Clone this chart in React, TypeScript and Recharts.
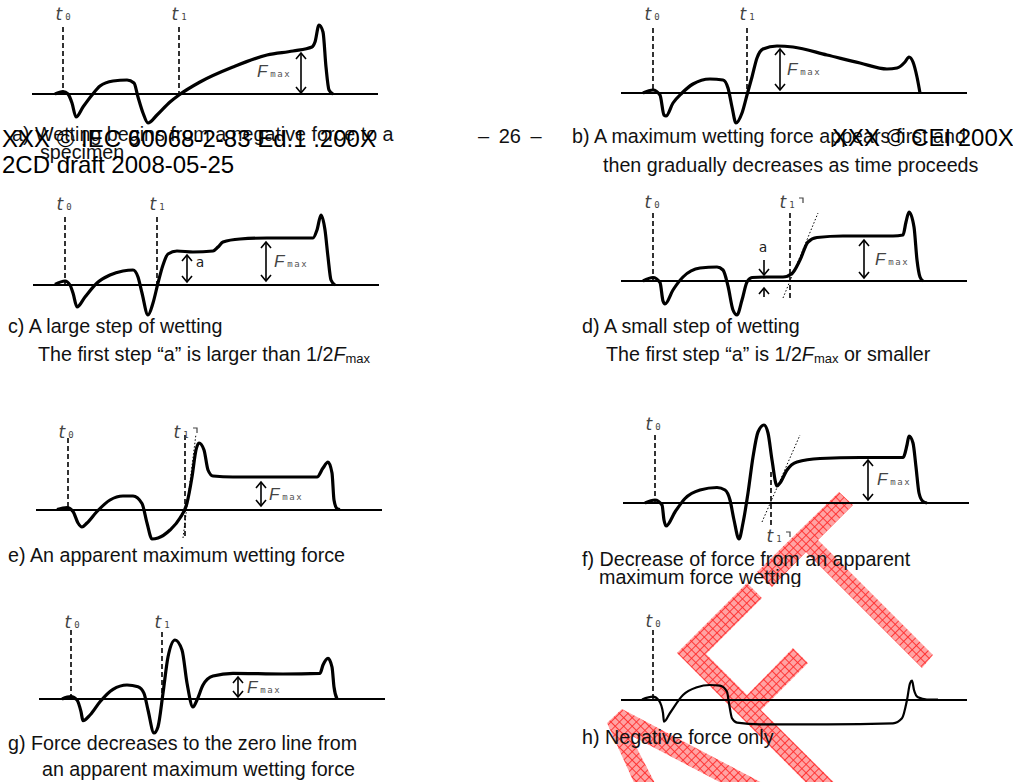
import React from 'react';
import { LineChart, Line, XAxis, YAxis, ReferenceLine, ReferenceDot } from 'recharts';

type Pt = [number, number];

// wetting force curves: [time, force], force 0 = zero line
const curveA: Pt[] = [[23, 0], [31, 2.5], [36, 0], [40, -9], [44, -23], [51, -13], [60, -1], [68, 8], [81, 13], [95, 14], [102, 11], [106, -3], [111, -19], [116, -29], [125, -21], [138, -8], [147, -1], [168, 12], [201, 27], [235, 39], [261, 43], [280, 47], [283, 52], [287, 69], [291, 62], [294, 27], [297, 4], [301, 0]];
const curveB: Pt[] = [[22, 0], [32, 3], [39, -2], [43, -22], [45, -23], [52, -10], [61, 0], [72, 9], [89, 14], [102, 13], [107, 5], [111, -14], [115, -30], [121, -20], [126, -2], [131, 16], [136, 35], [142, 44], [156, 47], [172, 46], [206, 38], [239, 30], [266, 24], [276, 25], [284, 31], [288, 36], [292, 31], [296, 16], [299, 0]];
const curveC: Pt[] = [[22, 0.5], [32, 4], [37, 0], [40, -8], [44, -22], [52, -12], [64, 2], [77, 10], [90, 14], [100, 15], [105, 8], [109, -8], [115, -30], [120, -18], [125, 2], [130, 20], [135, 31], [144, 34], [160, 33], [180, 34], [185, 38], [190, 43], [207, 46], [234, 47], [267, 47], [280, 47], [284, 55], [288, 70], [292, 55], [295, 28], [298, 5], [302, 0]];
const curveD: Pt[] = [[22, 0], [32, 3.5], [39, -1.5], [42, -20], [44, -23], [52, -9], [62, 4], [79, 13], [96, 14], [102, 11], [107, -5], [112, -29], [116, -34], [121, -19], [126, -1], [131, 3.5], [146, 4], [162, 4], [171, 7.5], [179, 21], [187, 39], [196, 43.5], [222, 45], [272, 45], [282, 46], [285, 59], [288, 69], [293, 54], [296, 21], [299, 4], [302, 0]];
const curveE: Pt[] = [[21, 0.5], [31, 2.5], [37, -1.5], [42, -13], [46, -17], [51, -13], [61, -1.5], [74, 10], [87, 14], [97, 14], [106, 6.5], [111, -13], [116, -29], [122, -28], [134, -20], [144, -8], [151, 7], [156, 33], [160, 60], [163, 67], [168, 60], [172, 40], [177, 34], [197, 33], [281, 33], [287, 42], [292, 48], [296, 37], [298, 10], [301, 1.5], [304, 0.5]];
const curveF: Pt[] = [[22, 0], [32, 3], [39, -2], [41, -17], [43, -23], [52, -9], [62, 4.5], [77, 13], [94, 15.5], [102, 13], [107, 3], [111, -17], [116, -36], [120, -20], [125, 10], [130, 46], [135, 71], [141, 78], [145, 70], [149, 43], [154, 17], [157, 20], [164, 33], [174, 41], [197, 44.5], [237, 45.5], [280, 45.5], [284, 58], [286, 67], [290, 60], [293, 36], [296, 10], [300, 1.5], [304, 0]];
const curveG: Pt[] = [[23, 0], [32, 2.3], [38, -1], [42, -12.7], [44, -21.7], [51, -16], [61, -2.7], [74, 9.7], [88, 14], [99, 12.3], [105, 5.7], [109, -11], [115, -34], [119, -27.7], [124, 5.7], [129, 42], [136, 59], [143, 49], [148, 16], [154, -8], [158, -1], [164, 14], [174, 23], [194, 25.7], [244, 25], [281, 25.7], [284, 34], [289, 40.7], [293, 32], [295, 12], [298, 0]];
const curveH: Pt[] = [[21, 0.5], [32, 3.3], [38, -0.7], [42, -13], [43, -21.7], [49, -13], [62, 5], [76, 12.7], [89, 15], [99, 14.3], [106, 8.3], [108, -3.3], [111, -18.3], [116, -22.7], [139, -24.3], [206, -24.3], [272, -23.3], [281, -18.3], [286, 0], [289, 16.7], [291, 19.3], [293, 10], [297, 2.7], [306, 0.5], [317, 0.5]];

const captionA = ['a) Wetting begins from a negative force to a', 'specimen'];
const captionB = ['b) A maximum wetting force appears first and', 'then gradually decreases as time proceeds'];
const captionC = 'c) A large step of wetting';
const captionD = 'd) A small step of wetting';
const captionE = 'e) An apparent maximum wetting force';
const captionF = ['f) Decrease of force from an apparent', 'maximum force wetting'];
const captionG = ['g) Force decreases to the zero line from', 'an apparent maximum wetting force'];
const captionH = 'h) Negative force only';

const T_MAX = 346;
const F_MIN = -50;
const F_MAX = 95;

type Seg = { t: number; from: number; to: number };
type Arrow = Seg & { heads: 'both' | 'up' | 'down' };
type Tag = { t: number; f: number; kind: 't0' | 't1' | 't1m' | 'fmax' | 'a' };

interface Panel {
  id: string;
  left: number;
  zeroY: number;
  curve: Pt[];
  thin?: boolean;
  dashed: Seg[];
  dotted?: [Pt, Pt];
  arrows: Arrow[];
  tags: Tag[];
}

const panels: Panel[] = [
  {
    id: 'a', left: 32, zeroY: 94, curve: curveA,
    dashed: [{ t: 31, from: 0, to: 67 }, { t: 147, from: 0, to: 67 }],
    arrows: [{ t: 269, from: 1, to: 41, heads: 'both' }],
    tags: [{ t: 31, f: 79, kind: 't0' }, { t: 147, f: 79, kind: 't1' }, { t: 242, f: 22, kind: 'fmax' }],
  },
  {
    id: 'b', left: 621, zeroY: 93, curve: curveB,
    dashed: [{ t: 32, from: 0, to: 65 }, { t: 126, from: 0, to: 65 }],
    arrows: [{ t: 159, from: 3, to: 44, heads: 'both' }],
    tags: [{ t: 31, f: 78, kind: 't0' }, { t: 126, f: 78, kind: 't1' }, { t: 183, f: 23, kind: 'fmax' }],
  },
  {
    id: 'c', left: 33, zeroY: 285, curve: curveC,
    dashed: [{ t: 32, from: 0, to: 68 }, { t: 124, from: 0, to: 68 }],
    arrows: [{ t: 154, from: 3, to: 30, heads: 'both' }, { t: 233, from: 4, to: 43, heads: 'both' }],
    tags: [{ t: 31, f: 80, kind: 't0' }, { t: 124, f: 80, kind: 't1' }, { t: 167, f: 23, kind: 'a' }, { t: 258, f: 23, kind: 'fmax' }],
  },
  {
    id: 'd', left: 621, zeroY: 281, curve: curveD,
    dashed: [{ t: 32, from: 0, to: 68 }, { t: 169, from: -19, to: 68 }],
    dotted: [[162, -17], [197, 68]],
    arrows: [{ t: 143, from: 6, to: 21, heads: 'down' }, { t: 143, from: -16, to: -7, heads: 'up' }, { t: 243, from: 3, to: 41, heads: 'both' }],
    tags: [{ t: 31, f: 78, kind: 't0' }, { t: 166, f: 78, kind: 't1m' }, { t: 142, f: 34, kind: 'a' }, { t: 271, f: 21, kind: 'fmax' }],
  },
  {
    id: 'e', left: 36, zeroY: 510, curve: curveE,
    dashed: [{ t: 32, from: 0, to: 72 }, { t: 149, from: -27, to: 75 }],
    dotted: [[147, -28], [160, 76]],
    arrows: [{ t: 225, from: 4, to: 28, heads: 'both' }],
    tags: [{ t: 30, f: 77, kind: 't0' }, { t: 145, f: 77, kind: 't1m' }, { t: 250, f: 15, kind: 'fmax' }],
  },
  {
    id: 'f', left: 623, zeroY: 503, curve: curveF,
    dashed: [{ t: 32, from: 0, to: 68 }, { t: 148, from: -22, to: 31 }],
    dotted: [[139, -19], [177, 68]],
    arrows: [{ t: 245, from: 3, to: 43, heads: 'both' }],
    tags: [{ t: 30, f: 78, kind: 't0' }, { t: 151, f: -34, kind: 't1m' }, { t: 271, f: 23, kind: 'fmax' }],
  },
  {
    id: 'g', left: 39, zeroY: 699, curve: curveG,
    dashed: [{ t: 32, from: 0, to: 69 }, { t: 123, from: 0, to: 67 }],
    arrows: [{ t: 199, from: 2, to: 22, heads: 'both' }],
    tags: [{ t: 33, f: 76, kind: 't0' }, { t: 123, f: 76, kind: 't1' }, { t: 225, f: 11, kind: 'fmax' }],
  },
  {
    id: 'h', left: 621, zeroY: 700, curve: curveH, thin: true,
    dashed: [{ t: 32, from: 0, to: 70 }],
    arrows: [],
    tags: [{ t: 32, f: 78, kind: 't0' }],
  },
];

const LABEL_GREY = '#444';

const arrowShape = (heads: Arrow['heads']) => (props: any) => {
  const { x1, y1, y2 } = props;
  const top = Math.min(y1, y2);
  const bot = Math.max(y1, y2);
  const h = 6;
  const w = 5;
  return (
    <g stroke="#000" strokeWidth={1.6} fill="none">
      <line x1={x1} y1={top} x2={x1} y2={bot} />
      {heads !== 'down' && <polyline points={`${x1 - w},${top + h} ${x1},${top} ${x1 + w},${top + h}`} />}
      {heads !== 'up' && <polyline points={`${x1 - w},${bot - h} ${x1},${bot} ${x1 + w},${bot - h}`} />}
    </g>
  );
};

const tagShape = (kind: Tag['kind']) => (p: any) => {
  const { cx, cy } = p;
  if (kind === 'fmax') {
    return (
      <text x={cx} y={cy + 5} textAnchor="middle" fill={LABEL_GREY}>
        <tspan fontFamily="Liberation Sans" fontStyle="italic" fontSize={17}>F</tspan>
        <tspan fontFamily="DejaVu Sans Mono" fontSize={9} letterSpacing={1.5} dx={3} fill="#555">max</tspan>
      </text>
    );
  }
  if (kind === 'a') {
    return (
      <text x={cx} y={cy + 5} textAnchor="middle" fontFamily="DejaVu Sans Mono" fontSize={14} fill="#222">a</text>
    );
  }
  return (
    <g>
      <text x={cx} y={cy + 5} textAnchor="middle" fill={LABEL_GREY}>
        <tspan fontFamily="DejaVu Sans" fontStyle="italic" fontSize={17}>t</tspan>
        <tspan fontFamily="DejaVu Sans Mono" fontSize={9} dx={3}>{kind === 't0' ? '0' : '1'}</tspan>
      </text>
      {kind === 't1m' && (
        <polyline points={`${cx + 12},${cy - 5} ${cx + 16},${cy - 5} ${cx + 16},${cy}`} stroke={LABEL_GREY} strokeWidth={1.2} fill="none" />
      )}
    </g>
  );
};

const PanelChart = ({ p }: { p: Panel }) => (
  <div style={{ position: 'absolute', left: p.left, top: p.zeroY - F_MAX }}>
    <LineChart
      width={T_MAX}
      height={F_MAX - F_MIN}
      data={p.curve.map(([t, f]) => ({ t, f }))}
      margin={{ top: 0, right: 0, bottom: 0, left: 0 }}
    >
      <XAxis dataKey="t" type="number" domain={[0, T_MAX]} hide />
      <YAxis type="number" domain={[F_MIN, F_MAX]} hide />
      <ReferenceLine y={0} stroke="#000" strokeWidth={2} />
      {p.dashed.map((d, i) => (
        <ReferenceLine
          key={`d${i}`}
          segment={[{ x: d.t, y: d.to }, { x: d.t, y: d.from }]}
          stroke="#000"
          strokeWidth={1.6}
          strokeDasharray="5 3"
        />
      ))}
      {p.dotted && (
        <ReferenceLine
          segment={[{ x: p.dotted[0][0], y: p.dotted[0][1] }, { x: p.dotted[1][0], y: p.dotted[1][1] }]}
          stroke="#000"
          strokeWidth={1}
          strokeDasharray="1.5 2"
        />
      )}
      <Line
        dataKey="f"
        type="monotone"
        stroke="#000"
        strokeWidth={p.thin ? 2.2 : 3.2}
        dot={false}
        activeDot={false}
        isAnimationActive={false}
      />
      {p.arrows.map((a, i) => (
        <ReferenceLine
          key={`a${i}`}
          segment={[{ x: a.t, y: a.from }, { x: a.t, y: a.to }]}
          shape={arrowShape(a.heads)}
        />
      ))}
      {p.tags.map((tg, i) => (
        <ReferenceDot key={`t${i}`} x={tg.t} y={tg.f} shape={tagShape(tg.kind)} />
      ))}
    </LineChart>
  </div>
);

const HATCH = 'hatch';

const Watermark = () => (
  <svg width={1013} height={782} style={{ position: 'absolute', left: 0, top: 0 }}>
    <defs>
      <pattern id={HATCH} width={6} height={6} patternUnits="userSpaceOnUse" patternTransform="rotate(45)">
        <rect width={6} height={6} fill="#ffa3a3" />
        <path d="M0 0.5H6M0.5 0V6" stroke="#ff2b2b" strokeWidth={0.9} />
      </pattern>
    </defs>
    <g fill={`url(#${HATCH})`}>
      <polygon points="757,572 839,492 853,505 818,540 933,655 922,668 806,552 772,587" />
      <polygon points="677,653 747,583 762,598 706,654 747,695 793,648 808,663 761,710 882,830 853,830" />
      <path fillRule="evenodd" d="M607,723 L622,709 L770,787 L636,787 Z M630,735 L729,787 L657,787 Z" />
    </g>
  </svg>
);

const cap = { fontFamily: '"Liberation Sans", Arial, sans-serif', fontSize: 19.7, fill: '#111' };
const head = { fontFamily: '"Liberation Sans", Arial, sans-serif', fontSize: 24, fill: '#000' };

const Texts = () => (
  <svg width={1013} height={782} style={{ position: 'absolute', left: 0, top: 0 }}>
    <defs>
      <clipPath id="capClipF">
        <rect x={560} y={540} width={453} height={47} />
      </clipPath>
    </defs>
    <text x={12} y={141} {...cap}>{captionA[0]}</text>
    <text x={40} y={159} {...cap}>{captionA[1]}</text>
    <text x={2} y={147} {...head}>XXX © IEC 60068-2-83 Ed.1 .200X</text>
    <text x={2} y={173} {...head}>2CD draft 2008-05-25</text>
    <text x={478} y={143} {...cap} fontSize={20} wordSpacing={4}>– 26 –</text>
    <text x={572} y={143} {...cap}>{captionB[0]}</text>
    <text x={832} y={146} {...head}>XXX © CEI 200X</text>
    <text x={603} y={172} {...cap}>{captionB[1]}</text>

    <text x={8} y={333} {...cap}>{captionC}</text>
    <text x={38} y={361} {...cap}>
      The first step “a” is larger than 1/2<tspan fontStyle="italic">F</tspan>
      <tspan fontSize={13} dy={2}>max</tspan>
    </text>
    <text x={582} y={333} {...cap}>{captionD}</text>
    <text x={606} y={361} {...cap}>
      The first step “a” is 1/2<tspan fontStyle="italic">F</tspan>
      <tspan fontSize={13} dy={2}>max</tspan>
      <tspan dy={-2}> or smaller</tspan>
    </text>

    <text x={8} y={562} {...cap}>{captionE}</text>
    <g clipPath="url(#capClipF)">
      <text x={582} y={566} {...cap}>{captionF[0]}</text>
      <text x={599} y={584} {...cap}>{captionF[1]}</text>
    </g>

    <text x={8} y={750} {...cap}>{captionG[0]}</text>
    <text x={42} y={776} {...cap}>{captionG[1]}</text>
    <text x={582} y={744} {...cap}>{captionH}</text>
  </svg>
);

export default function App() {
  return (
    <div style={{ position: 'absolute', left: 0, top: 0, width: 1013, height: 782, background: '#fff', overflow: 'hidden' }}>
      <Watermark />
      {panels.map((p) => (
        <PanelChart key={p.id} p={p} />
      ))}
      <Texts />
    </div>
  );
}
